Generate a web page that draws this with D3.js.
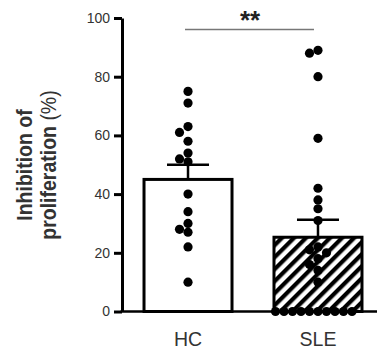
<!DOCTYPE html>
<html><head><meta charset="utf-8">
<script src="https://cdn.jsdelivr.net/npm/d3@7"></script>
<style>
html,body{margin:0;padding:0;background:#fff;}
svg{display:block;}
text{font-family:"Liberation Sans",Arial,sans-serif;}
</style></head>
<body>
<svg id="chart" width="377" height="356"></svg>
<script>
const categories = ["HC", "SLE"];
const means = [45, 25.3];
const sems = [5, 6];
const hcValues = [75, 71, 63, 61, 58, 54, 52, 51, 40, 34, 30, 28, 27, 22, 10];
const sleValues = [89, 88, 80, 59, 42, 38, 35, 31, 22, 21, 20, 18, 16, 14, 10, 0, 0, 0, 0, 0, 0, 0, 0, 0, 0];
const yTicks = [0, 20, 40, 60, 80, 100];
const yLabelLines = ["Inhibition of", "proliferation"];
const yLabelUnit = "(%)";
const significance = "**";

const svg = d3.select("#chart");
const y = d3.scaleLinear().domain([0, 100]).range([311.5, 18]);
const x = d3.scaleBand().domain(categories).range([124, 382]).paddingInner(0.323).paddingOuter(0.154);
const bw = x.bandwidth();

// hatch pattern
const defs = svg.append("defs");
defs.append("pattern").attr("id", "hatch").attr("patternUnits", "userSpaceOnUse")
  .attr("width", 8.5).attr("height", 8.5).attr("patternTransform", "rotate(45)")
  .append("rect").attr("x", 0).attr("y", 0).attr("width", 4.2).attr("height", 8.5).attr("fill", "#000");

// bars
svg.selectAll("rect.bar").data(categories).join("rect").attr("class", "bar")
  .attr("x", d => x(d)).attr("y", (d, i) => y(means[i]))
  .attr("width", bw).attr("height", (d, i) => y(0) - y(means[i]))
  .attr("fill", (d, i) => i === 0 ? "#fff" : "url(#hatch)")
  .attr("stroke", "#000").attr("stroke-width", 3);

// error bars
categories.forEach((c, i) => {
  const cx = x(c) + bw / 2;
  svg.append("line").attr("x1", cx).attr("x2", cx).attr("y1", y(means[i])).attr("y2", y(means[i] + sems[i]))
    .attr("stroke", "#000").attr("stroke-width", 2.5);
  svg.append("line").attr("x1", cx - 21).attr("x2", cx + 21).attr("y1", y(means[i] + sems[i])).attr("y2", y(means[i] + sems[i]))
    .attr("stroke", "#000").attr("stroke-width", 2.5);
});

// beeswarm dots
const r = 4.6, step = 4.25, minDist = 8.3;
function swarm(values, cx) {
  const placed = [];
  values.forEach(v => {
    const py = y(v);
    for (let k = 0; k < 80; k++) {
      const m = Math.ceil(k / 2) * (k % 2 === 1 ? -1 : 1);
      const px = cx + m * step;
      if (placed.every(p => Math.hypot(p.x - px, p.y - py) >= minDist)) { placed.push({x: px, y: py}); break; }
    }
  });
  return placed;
}
const groups = [hcValues, sleValues];
categories.forEach((c, i) => {
  const pts = swarm(groups[i], x(c) + bw / 2);
  svg.append("g").selectAll("circle").data(pts).join("circle")
    .attr("cx", d => d.x).attr("cy", d => d.y).attr("r", r).attr("fill", "#000");
});

// y axis
const yAxis = d3.axisLeft(y).tickValues(yTicks).tickSize(8).tickPadding(4).tickSizeOuter(0);
const ga = svg.append("g").attr("transform", "translate(122,0)").call(yAxis);
ga.select(".domain").attr("stroke", "#000").attr("stroke-width", 3);
ga.selectAll(".tick line").attr("stroke", "#000").attr("stroke-width", 3);
ga.selectAll(".tick text").attr("font-size", 14).attr("fill", "#333").attr("font-family", "Liberation Sans, Arial, sans-serif");

// x axis baseline
svg.append("line").attr("x1", 120.5).attr("x2", 377).attr("y1", y(0)).attr("y2", y(0)).attr("stroke", "#000").attr("stroke-width", 2.5);

// x labels
svg.selectAll("text.xl").data(categories).join("text").attr("class", "xl")
  .attr("x", d => x(d) + bw / 2).attr("y", 346).attr("text-anchor", "middle")
  .attr("font-size", 19.5).attr("fill", "#333").text(d => d);

// y title
const yt = svg.append("text").attr("transform", "translate(0,165) rotate(-90) scale(1,1.15)").attr("text-anchor", "middle")
  .attr("font-size", 19.5).attr("font-weight", "bold").attr("fill", "#333");
yt.append("tspan").attr("x", 0).attr("y", 27.8).text(yLabelLines[0]);
yt.append("tspan").attr("x", 0).attr("y", 48.7).text(yLabelLines[1] + " ");
yt.append("tspan").attr("font-weight", "normal").text(yLabelUnit);

// significance
const cx0 = x(categories[0]) + bw / 2, cx1 = x(categories[1]) + bw / 2;
svg.append("line").attr("x1", cx0 - 3).attr("x2", cx1 - 4).attr("y1", 29.5).attr("y2", 29.5).attr("stroke", "#777").attr("stroke-width", 1.5);
svg.append("text").attr("x", 250).attr("y", 29).attr("text-anchor", "middle").attr("font-size", 26).attr("font-weight", "bold").attr("fill", "#222").text(significance);
</script>
</body></html>
